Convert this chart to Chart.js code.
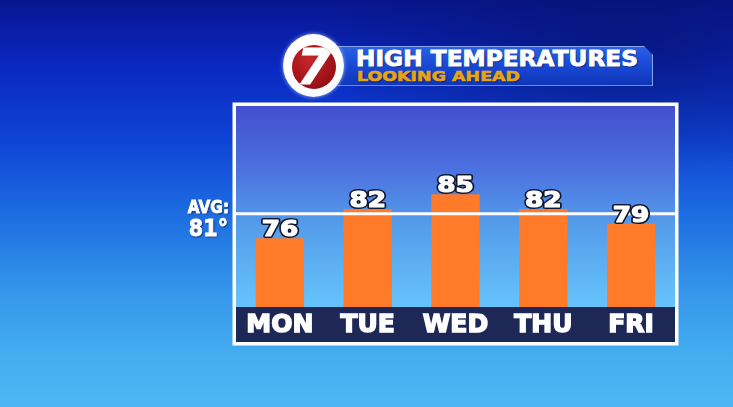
<!DOCTYPE html>
<html>
<head>
<meta charset="utf-8">
<script src="https://cdn.jsdelivr.net/npm/chart.js@4.4.1/dist/chart.umd.min.js"></script>
<style>
  html, body { margin: 0; padding: 0; }
  body {
    width: 733px; height: 407px; overflow: hidden; position: relative;
    background:
      radial-gradient(ellipse 60% 45% at 85% 12%, rgba(5,15,90,0.55), rgba(5,15,90,0) 70%),
      linear-gradient(180deg, #08168f 0%, #0a27c0 16%, #0f45d6 35%, #1f72e2 55%, #3597ea 72%, #45aef0 88%, #4db6f2 100%);
  }
  #chart { position: absolute; left: 0; top: 0; }
  #logo {
    position: absolute; left: 283px; top: 34px; width: 61px; height: 63px; border-radius: 50%;
    background: radial-gradient(circle at 45% 40%, #ffffff 60%, #dfe8fb 100%);
    box-shadow: 0 0 4px rgba(180,200,255,0.8); z-index: 3;
  }
  #logo .red {
    position: absolute; left: 9px; top: 10.5px; width: 44px; height: 44px; border-radius: 50%;
    background: radial-gradient(circle at 40% 35%, #c8262a 0%, #a3141a 55%, #7e0a0e 100%);
    overflow: hidden;
  }
  #logo .seven {
    position: absolute; left: -1px; width: 46px; top: -4px; text-align: center;
    font: italic bold 50px "DejaVu Sans", sans-serif; color: #fff; line-height: 52px;
    -webkit-text-stroke: 1px #fff;
  }
  #banner {
    position: absolute; left: 330px; top: 46px; width: 323px; height: 40px; z-index: 2;
    background: linear-gradient(180deg, #2a62e4 0%, #1a4ad6 45%, #0f35b8 100%);
    clip-path: polygon(0 0, 314px 0, 323px 9px, 323px 40px, 0 40px);
    box-shadow: inset 0 1px 0 #8aa6ee, inset -1px 0 0 #8aa6ee, inset 0 -1px 0 #6d88d8;
  }
  .hl { position: absolute; white-space: nowrap; transform-origin: 0 0; font-family: "DejaVu Sans", sans-serif; font-weight: bold; }
  #t1 { left: 26px; top: 1px; font-size: 20.5px; color: #fff; -webkit-text-stroke: 0.8px #fff; text-shadow: 1px 1px 1px rgba(0,0,40,0.6); }
  #t2 { left: 27px; top: 22px; font-size: 14px; color: #e6a418; -webkit-text-stroke: 0.6px #e6a418; text-shadow: 1px 1px 1px rgba(0,0,40,0.5); }
</style>
</head>
<body>
<canvas id="chart" width="733" height="407"></canvas>
<div id="logo"><div class="red"><div class="seven">7</div></div></div>
<div id="banner">
  <div class="hl" id="t1" data-w="282">HIGH TEMPERATURES</div>
  <div class="hl" id="t2" data-w="163">LOOKING AHEAD</div>
</div>
<script>
// forecast highs (°F)
const days = ['MON', 'TUE', 'WED', 'THU', 'FRI'];
const highs = [76, 82, 85, 82, 79];
const avgHigh = [81];
const yRange = [62, 103];

// stretch header text to the wide broadcast look
document.querySelectorAll('.hl').forEach(function (el) {
    const w = el.getBoundingClientRect().width;
    el.style.transform = 'scaleX(' + (parseFloat(el.dataset.w) / w) + ')';
});

const panel = {
    id: 'panel',
    beforeDraw(chart) {
        const ctx = chart.ctx, a = chart.chartArea;
        const bandH = 35;
        ctx.save();
        // sky gradient inside the frame
        const g = ctx.createLinearGradient(0, a.top, 0, a.bottom);
        g.addColorStop(0, '#4250cf');
        g.addColorStop(0.3, '#4b6fdf');
        g.addColorStop(0.6, '#559deb');
        g.addColorStop(1, '#66c4fa');
        ctx.fillStyle = g;
        ctx.fillRect(a.left, a.top, a.right - a.left, a.bottom - a.top);
        // navy band for the day names
        ctx.fillStyle = '#1e2857';
        ctx.fillRect(a.left, a.bottom, a.right - a.left, bandH);
        // white frame
        ctx.strokeStyle = '#ffffff';
        ctx.lineWidth = 3.5;
        ctx.strokeRect(a.left - 1.75, a.top - 1.75, a.right - a.left + 3.5, a.bottom - a.top + bandH + 3.5);
        ctx.restore();
    },
    afterDatasetsDraw(chart) {
        const ctx = chart.ctx, a = chart.chartArea;
        const ys = chart.scales.y;
        const ly = ys.getPixelForValue(avgHigh[0]);
        ctx.save();
        // average line
        ctx.strokeStyle = '#ffffff';
        ctx.lineWidth = 3;
        ctx.beginPath();
        ctx.moveTo(a.left, ly);
        ctx.lineTo(a.right, ly);
        ctx.stroke();

        // AVG label left of the frame
        const avgLines = [
            { txt: 'AVG:', size: 17, x: 229, y: ly - 1 },
            { txt: avgHigh[0] + '°', size: 23, x: 228, y: ly + 22 }
        ];
        ctx.textAlign = 'right';
        ctx.textBaseline = 'alphabetic';
        avgLines.forEach(function (t) {
            ctx.font = 'bold ' + t.size + 'px "Liberation Sans Narrow", "DejaVu Sans Condensed", sans-serif';
            ctx.shadowColor = 'rgba(0,0,30,0.7)';
            ctx.shadowOffsetX = 1;
            ctx.shadowOffsetY = 1;
            ctx.shadowBlur = 2;
            ctx.fillStyle = '#ffffff';
            ctx.fillText(t.txt, t.x, t.y);
            ctx.shadowColor = 'transparent';
            ctx.strokeStyle = '#ffffff';
            ctx.lineWidth = 0.8;
            ctx.strokeText(t.txt, t.x, t.y);
        });

        // value labels on top of the bars
        const meta = chart.getDatasetMeta(0);
        ctx.textAlign = 'center';
        ctx.font = 'bold 21px "DejaVu Sans", sans-serif';
        ctx.lineJoin = 'round';
        meta.data.forEach(function (bar, i) {
            const txt = String(highs[i]);
            ctx.save();
            ctx.translate(bar.x, bar.y - 2);
            ctx.scale(1.25, 1);
            ctx.strokeStyle = '#10182e';
            ctx.lineWidth = 4;
            ctx.strokeText(txt, 0, 0);
            ctx.fillStyle = '#ffffff';
            ctx.fillText(txt, 0, 0);
            ctx.strokeStyle = '#ffffff';
            ctx.lineWidth = 1.2;
            ctx.strokeText(txt, 0, 0);
            ctx.restore();
        });
        ctx.restore();
    }
};

new Chart(document.getElementById('chart'), {
    type: 'bar',
    data: {
        labels: days,
        datasets: [{
            data: highs,
            backgroundColor: '#ff7a29',
            borderWidth: 0,
            barPercentage: 0.55,
            categoryPercentage: 1.0
        }]
    },
    options: {
        responsive: false,
        animation: false,
        events: [],
        layout: { padding: { left: 236, right: 58, top: 106, bottom: 64 } },
        plugins: { legend: { display: false }, tooltip: { enabled: false } },
        scales: {
            x: {
                grid: { display: false, drawTicks: false },
                border: { display: false },
                ticks: {
                    color: '#ffffff',
                    padding: 3,
                    textStrokeColor: '#ffffff',
                    textStrokeWidth: 1.5,
                    font: { family: 'DejaVu Sans', weight: 'bold', size: 25 }
                }
            },
            y: { display: false, min: yRange[0], max: yRange[1] }
        }
    },
    plugins: [panel]
});
</script>
</body>
</html>
